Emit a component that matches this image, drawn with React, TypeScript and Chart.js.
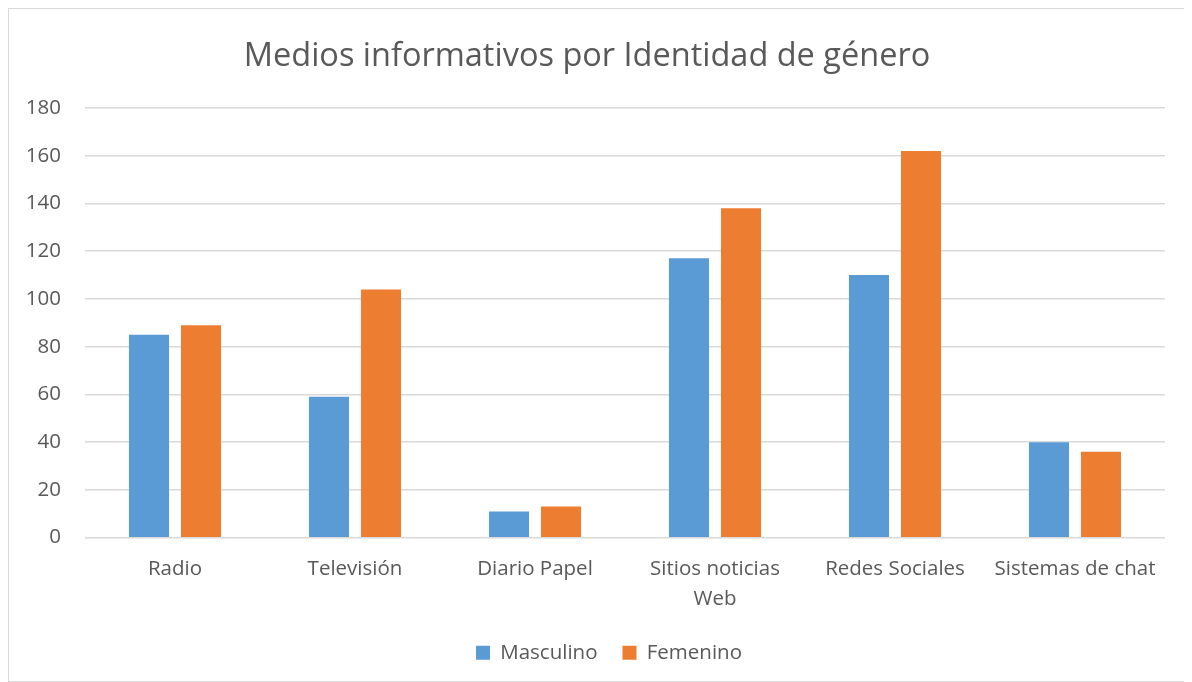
import React, { useEffect, useRef } from "react";
import { Chart, registerables } from "chart.js";

Chart.register(...registerables);

const categories: (string | string[])[] = [
  "Radio",
  "Televisión",
  "Diario Papel",
  ["Sitios noticias", "Web"],
  "Redes Sociales",
  "Sistemas de chat",
];
const masculino = [85, 59, 11, 117, 110, 40];
const femenino = [89, 104, 13, 138, 162, 36];
const titleText = "Medios informativos por Identidad de género";

const FONT = "'Open Sans', 'Noto Sans', sans-serif";
const TEXT = "#595959";

const legendShift = {
  id: "legendShift",
  afterLayout(chart: any) {
    if (chart.legend) {
      chart.legend.left += 22;
      chart.legend.right += 22;
    }
  },
};

export default function App() {
  const ref = useRef<HTMLCanvasElement | null>(null);
  useEffect(() => {
    if (!ref.current) return;
    const chart = new Chart(ref.current, {
      type: "bar",
      data: {
        labels: categories,
        datasets: [
          {
            label: "Masculino",
            data: masculino,
            backgroundColor: "#5B9BD5",
            categoryPercentage: 0.578,
            barPercentage: 0.77,
          },
          {
            label: "Femenino",
            data: femenino,
            backgroundColor: "#ED7D31",
            categoryPercentage: 0.578,
            barPercentage: 0.77,
          },
        ],
      },
      plugins: [legendShift],
      options: {
        animation: false,
        responsive: false,
        maintainAspectRatio: false,
        layout: { padding: { left: 0, right: 26, top: 0, bottom: 8 } },
        plugins: {
          title: {
            display: true,
            text: titleText,
            color: TEXT,
            font: { family: FONT, size: 32.5, weight: "normal" },
            padding: { top: 28, bottom: 32 },
          },
          legend: {
            position: "bottom",
            labels: {
              color: TEXT,
              font: { family: FONT, size: 20.5 },
              boxWidth: 14,
              boxHeight: 14,
              padding: 25,
            },
          },
          tooltip: { enabled: false },
        },
        scales: {
          x: {
            grid: { display: false },
            border: { display: false },
            ticks: {
              color: TEXT,
              font: { family: FONT, size: 20.5, lineHeight: 1.46 },
              padding: 9,
              maxRotation: 0,
              autoSkip: false,
            },
            afterFit: (scale: any) => {
              scale.height -= 6;
            },
          },
          y: {
            min: 0,
            max: 180,
            border: { display: false },
            grid: { color: "#d9d9d9", lineWidth: 1.5, drawTicks: false },
            ticks: {
              stepSize: 20,
              color: TEXT,
              font: { family: FONT, size: 20.5 },
              padding: 24,
            },
            afterFit: (scale: any) => {
              scale.width = 76;
            },
          },
        },
      },
    });
    return () => chart.destroy();
  }, []);
  return (
    <div
      style={{
        width: 1184,
        height: 674,
        border: "1px solid #d9d9d9",
        boxSizing: "border-box",
        background: "#fff",
      }}
    >
      <canvas ref={ref} width={1182} height={672} style={{ display: "block" }} />
    </div>
  );
}
